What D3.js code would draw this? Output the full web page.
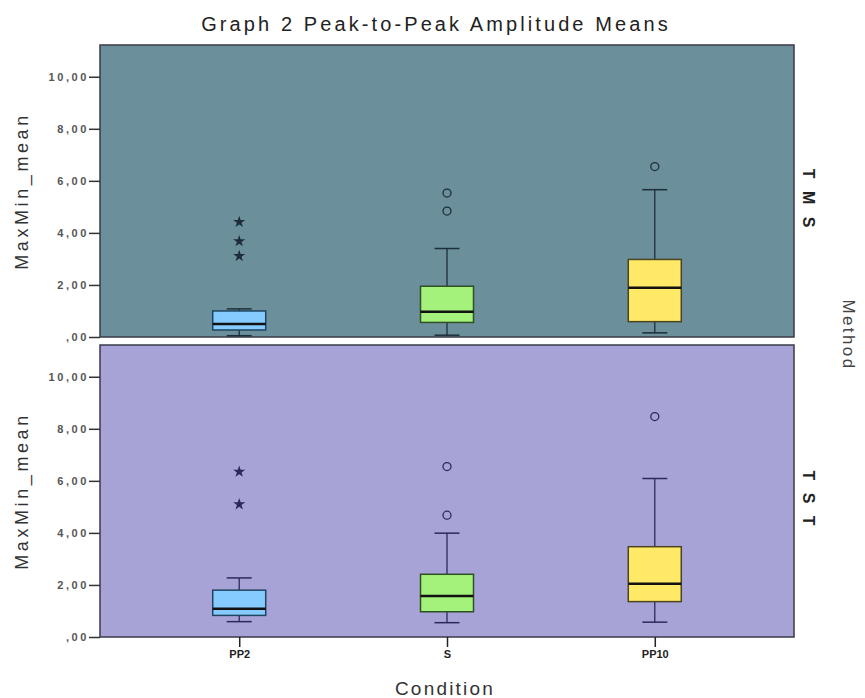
<!DOCTYPE html>
<html>
<head>
<meta charset="utf-8">
<script src="https://cdn.jsdelivr.net/npm/d3@7"></script>
<style>
  body { margin: 0; background: #fff; }
  svg { font-family: "Liberation Sans", Arial, Helvetica, sans-serif; }
</style>
</head>
<body>
<svg width="865" height="698"></svg>
<script>
// chart values
var conditions = ["PP2", "S", "PP10"];
var methods = ["T M S", "T S T"];
var yTicks = [0, 2, 4, 6, 8, 10];

// one row per method, one entry per condition
var whiskerLow  = [[0.05, 0.07, 0.16], [0.59, 0.55, 0.57]];
var quart1      = [[0.27, 0.56, 0.59], [0.83, 0.97, 1.36]];
var medians     = [[0.50, 0.97, 1.89], [1.09, 1.58, 2.05]];
var quart3      = [[1.00, 1.95, 2.98], [1.80, 2.41, 3.47]];
var whiskerHigh = [[1.08, 3.40, 5.66], [2.27, 3.99, 6.09]];
var outliers    = [
  [[4.42, 3.68, 3.11], [5.53, 4.84], [6.55]],
  [[6.35, 5.10], [6.55, 4.68], [8.47]]
];
// stars are extremes, circles are outliers
var outlierKind = [["star", "circle", "circle"], ["star", "circle", "circle"]];

var panelColors = ["#6c8f9c", "#a8a3d6"];
var boxColors = ["#86cbff", "#a4f27b", "#ffe966"];
var boxLines = ["#1f4560", "#2f4f24", "#4a4420"];

var svg = d3.select("svg");
var left = 100, right = 794;
var panels = [{top: 45, bottom: 337}, {top: 345, bottom: 637}];

var x = d3.scalePoint().domain(conditions).range([left, right]).padding(0.67);
var boxW = 53, capW = 25;

function fmt(d) {
  return d === 0 ? ",00" : d.toFixed(2).replace(".", ",");
}

svg.append("text")
  .attr("x", 436).attr("y", 31)
  .attr("text-anchor", "middle")
  .style("font-size", "20px").style("letter-spacing", "3.1px")
  .attr("fill", "#222")
  .text("Graph 2 Peak-to-Peak Amplitude Means");

panels.forEach(function(p, m) {
  var y = d3.scaleLinear().domain([0, 11.22]).range([p.bottom, p.top]);
  var g = svg.append("g");

  g.append("rect")
    .attr("x", left).attr("y", p.top)
    .attr("width", right - left).attr("height", p.bottom - p.top)
    .attr("fill", panelColors[m])
    .attr("stroke", "#3a3a4a").attr("stroke-width", 1.5);

  var ax = g.append("g")
    .attr("transform", "translate(" + left + ",0)")
    .call(d3.axisLeft(y).tickValues(yTicks).tickFormat(fmt).tickSize(11).tickPadding(0));
  ax.select(".domain").remove();
  ax.selectAll("line").attr("stroke", "#333").attr("stroke-width", 1.5);
  ax.selectAll("text")
    .style("font-size", "11px").style("font-weight", "bold")
    .style("letter-spacing", "2.6px").attr("fill", "#555");

  g.append("text")
    .attr("transform", "translate(28," + ((p.top + p.bottom) / 2) + ") rotate(-90)")
    .attr("text-anchor", "middle")
    .style("font-size", "18px").style("letter-spacing", "3.6px")
    .attr("fill", "#333")
    .text("MaxMin_mean");

  g.append("text")
    .attr("transform", "translate(803," + ((p.top + p.bottom) / 2 + 9) + ") rotate(90)")
    .attr("text-anchor", "middle")
    .style("font-size", "16px").style("font-weight", "bold")
    .style("letter-spacing", "4px")
    .attr("fill", "#222")
    .text(methods[m]);

  conditions.forEach(function(c, i) {
    var cx = x(c);
    var lc = m === 0 ? "#1d2e3a" : "#2a2a5a";
    // whiskers
    g.append("line").attr("x1", cx).attr("x2", cx)
      .attr("y1", y(whiskerHigh[m][i])).attr("y2", y(quart3[m][i]))
      .attr("stroke", lc).attr("stroke-width", 1.3);
    g.append("line").attr("x1", cx).attr("x2", cx)
      .attr("y1", y(quart1[m][i])).attr("y2", y(whiskerLow[m][i]))
      .attr("stroke", lc).attr("stroke-width", 1.3);
    [whiskerHigh[m][i], whiskerLow[m][i]].forEach(function(v) {
      g.append("line").attr("x1", cx - capW / 2).attr("x2", cx + capW / 2)
        .attr("y1", y(v)).attr("y2", y(v))
        .attr("stroke", lc).attr("stroke-width", 1.5);
    });
    // box
    g.append("rect")
      .attr("x", cx - boxW / 2).attr("y", y(quart3[m][i]))
      .attr("width", boxW).attr("height", y(quart1[m][i]) - y(quart3[m][i]))
      .attr("fill", boxColors[i])
      .attr("stroke", boxLines[i]).attr("stroke-width", 1.5);
    g.append("line").attr("x1", cx - boxW / 2).attr("x2", cx + boxW / 2)
      .attr("y1", y(medians[m][i])).attr("y2", y(medians[m][i]))
      .attr("stroke", "#111").attr("stroke-width", 2.5);
    // outliers
    outliers[m][i].forEach(function(v) {
      if (outlierKind[m][i] === "star") {
        g.append("path")
          .attr("d", d3.symbol().type(d3.symbolStar).size(45)())
          .attr("transform", "translate(" + cx + "," + y(v) + ")")
          .attr("fill", lc);
      } else {
        g.append("circle").attr("cx", cx).attr("cy", y(v)).attr("r", 4)
          .attr("fill", "none").attr("stroke", lc).attr("stroke-width", 1.3);
      }
    });
  });

  if (m === 1) {
    var xa = g.append("g")
      .attr("transform", "translate(0," + p.bottom + ")")
      .call(d3.axisBottom(x).tickSize(10).tickPadding(3));
    xa.select(".domain").remove();
    xa.selectAll("line").attr("stroke", "#222").attr("stroke-width", 1.5);
    xa.selectAll("text").style("font-size", "11px").style("font-weight", "bold").attr("fill", "#222");
  }
});

svg.append("text")
  .attr("x", 445).attr("y", 695)
  .attr("text-anchor", "middle")
  .style("font-size", "19px").style("letter-spacing", "2.2px")
  .attr("fill", "#333")
  .text("Condition");

svg.append("text")
  .attr("transform", "translate(843,335) rotate(90)")
  .attr("text-anchor", "middle")
  .style("font-size", "17px").style("letter-spacing", "2.4px")
  .attr("fill", "#444")
  .text("Method");
</script>
</body>
</html>
